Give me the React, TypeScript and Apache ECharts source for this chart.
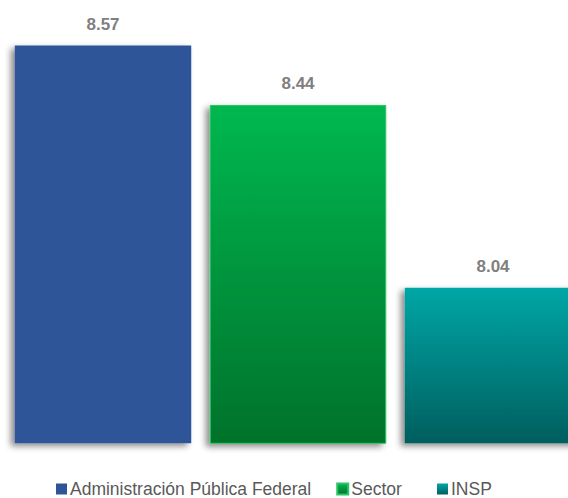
import React, { useEffect, useRef } from "react";
import * as echarts from "echarts";

const categories = ["Administración Pública Federal", "Sector", "INSP"];
const values = [8.57, 8.44, 8.04];
const seriesNames = ["Administración Pública Federal", "Sector", "INSP"];

export default function App() {
  const ref = useRef<HTMLDivElement>(null);
  useEffect(() => {
    document.body.style.margin = "0";
    const chart = echarts.init(ref.current!, null, { renderer: "svg" });
    const fills = [
      "#2E5597",
      new echarts.graphic.LinearGradient(0, 0, 0, 1, [
        { offset: 0, color: "#00B84F" },
        { offset: 1, color: "#03722B" },
      ]),
      new echarts.graphic.LinearGradient(0, 0, 0, 1, [
        { offset: 0, color: "#00A6A6" },
        { offset: 1, color: "#055E5E" },
      ]),
    ];
    const borders = ["#2E5597", "#2CC466", "#0A8A8A"];
    const font = "'Liberation Sans Narrow', 'Arial Narrow', 'Liberation Sans', sans-serif";
    const series = seriesNames.map((name, i) => ({
      name,
      type: "bar",
      barGap: "-100%",
      barCategoryGap: "9.5%",
      data: values.map((v, j) => (j === i ? v : "-")),
      itemStyle: {
        color: fills[i],
        borderColor: i === 1 ? borders[i] : undefined,
        borderWidth: i === 1 ? 1 : 0,
        shadowColor: "rgba(0,0,0,0.45)",
        shadowBlur: 6,
        shadowOffsetX: -4,
        shadowOffsetY: 3,
      },
      label: {
        show: true,
        position: "top",
        distance: 13,
        formatter: (p: any) => p.value.toFixed(2),
        color: "#7F7F7F",
        fontWeight: "bold",
        fontSize: 17,
        fontFamily: font,
      },
    }));
    const legendBase = {
      top: 480,
      padding: 0,
      itemWidth: 11,
      itemHeight: 11,
      itemGap: 25,
      icon: "rect",
      textStyle: { color: "#595959", fontSize: 17.5, fontFamily: font, padding: [0, 0, 0, -2] },
    };
    chart.setOption({
      animation: false,
      grid: { left: 5.5, right: 4.5, top: 31.8, height: 411.5, containLabel: false },
      xAxis: {
        type: "category",
        data: categories,
        axisLine: { show: false },
        axisTick: { show: false },
        axisLabel: { show: false },
      },
      yAxis: {
        type: "value",
        min: 7.7,
        max: 8.6,
        show: false,
        splitLine: { show: false },
      },
      legend: [
        { ...legendBase, left: 56, data: seriesNames.slice(0, 2) },
        { ...legendBase, left: 437, data: seriesNames.slice(2) },
      ],
      series,
    });
    return () => chart.dispose();
  }, []);
  return (
    <div style={{ width: 568, height: 498, position: "absolute", left: 0, top: 0, overflow: "hidden" }}>
      <div ref={ref} style={{ width: 595, height: 498 }} />
    </div>
  );
}
